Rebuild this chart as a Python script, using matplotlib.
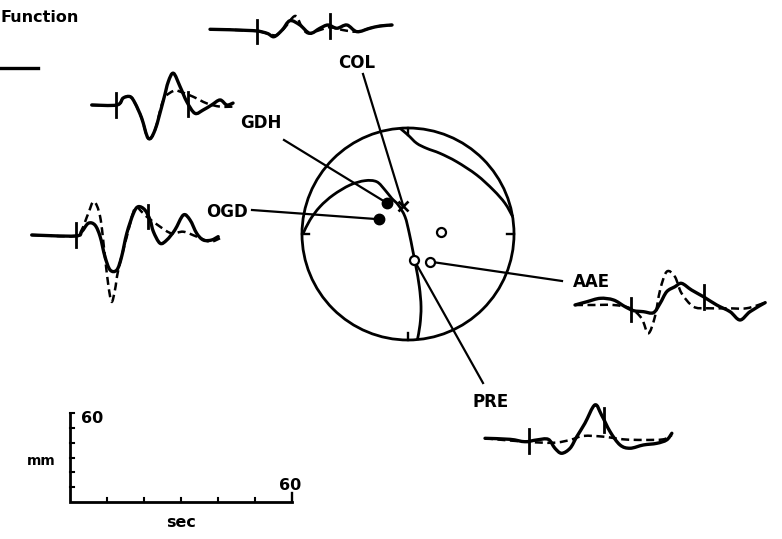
import numpy as np
import matplotlib
matplotlib.use('Agg')
import matplotlib.pyplot as plt
from matplotlib.path import Path
from matplotlib.patches import PathPatch, Circle
from matplotlib.transforms import Affine2D

# waveforms: time (sec) and amplitude (mm), observed (solid) and synthetic (dashed)
COL_T = [0, 11.6, 15.4, 17.3, 19.5, 21.6, 24.3, 27.0, 29.7, 31.9, 34.3, 37.0, 39.7, 43.2, 45.9, 49.2]
COL_OBS = [0, -0.9, -2.7, -5.0, -0.5, 5.8, 2.9, -2.7, 0.7, 2.9, 0.7, 2.9, -1.6, 0.7, 2.2, 2.9]
COL_SYN_T = [0, 11.6, 15.4, 17.8, 20.0, 23.0, 24.8, 26.5, 29.7, 32.4, 35.9, 39.7, 43.2, 45.9, 49.2]
COL_SYN = [0, -0.9, -2.7, -4.0, 0.5, 9.0, 1.8, -2.7, -0.5, 1.4, -0.5, -1.6, 0.7, 2.2, 2.9]
COL_TICKS = [12.7, 32.4]

GDH_T = [0, 6.8, 8.5, 10.4, 11.7, 13.5, 15.3, 17.1, 19.4, 20.7, 22.1, 23.9, 25.7, 27.9, 30.1, 32.4, 34.7, 36.5, 38.2]
GDH_OBS = [0, 0, 4.7, 5.6, 1.3, -8.8, -22.5, -16.9, 3.4, 15.7, 21.4, 12.3, 2.2, -5.6, -3.4, 0, 3.4, 0, 1.3]
GDH_SYN_T = [0, 6.8, 8.5, 10.4, 11.7, 13.5, 15.3, 17.1, 19.4, 22.2, 23.9, 27.4, 31.1, 34.7, 38.2]
GDH_SYN = [0, 0, 4.7, 5.6, 1.3, -8.8, -22.5, -16.9, 3.4, 9.6, 9.0, 5.6, 1.1, -1.1, -1.1]
GDH_TICKS = [6.6, 26.1]

OGD_T = [0, 11.7, 13.5, 15.3, 17.1, 18.5, 19.8, 21.2, 23.0, 24.3, 25.7, 27.5, 28.8, 30.6, 32.0, 32.9,
         34.7, 36.5, 38.7, 41.0, 42.8, 44.6, 46.4, 48.6, 50.4]
OGD_OBS = [0, -0.7, 2.2, 7.9, 6.7, -1.1, -14.6, -23.6, -23.6, -14.6, 1.1, 14.6, 19.1, 16.9, 10.1, 2.2,
           -5.6, -3.4, 3.4, 13.5, 10.1, 1.1, -3.4, -3.4, -1.1]
OGD_SYN_T = [0, 11.7, 13.5, 15.3, 16.8, 18.5, 19.8, 20.7, 21.6, 22.5, 23.4, 25.7, 27.9, 29.7, 31.1,
             34.7, 37.8, 41.0, 44.6, 48.2, 50.9]
OGD_SYN = [0, -0.7, 3.4, 14.6, 22.5, 12.3, -14.6, -33.7, -45.0, -37.1, -23.6, -1.1, 18.0, 15.7, 12.3,
           5.6, 1.1, 2.2, -1.1, -4.5, -2.2]
OGD_TICKS = [12.0, 31.5]

AAE_T = [0, 3.2, 6.8, 10.4, 13.5, 15.8, 18.5, 21.2, 23.0, 24.8, 27.0, 28.8, 31.5, 34.7, 38.3, 41.9, 44.6, 47.3, 51.4]
AAE_OBS = [0, 2.2, 4.5, 3.4, -1.1, -3.8, -4.5, -5.2, 1.1, 9.0, 12.3, 14.6, 10.1, 5.6, 0, -4.5, -10.1, -4.5, 1.6]
AAE_SYN_T = [0, 4.9, 10.4, 14.9, 18.0, 19.8, 21.6, 23.0, 24.8, 27.0, 28.8, 32.0, 35.6, 41.0, 46.4, 51.4]
AAE_SYN = [0, 0, 0, -2.2, -9.0, -19.1, -7.9, 10.1, 22.5, 19.1, 7.9, -1.1, -2.2, -2.2, -2.2, 1.6]
AAE_TICKS = [15.1, 34.9]

PRE_T = [0, 6.8, 10.8, 14.0, 17.1, 18.9, 20.7, 23.0, 24.8, 27.0, 29.7, 31.5, 33.8, 36.5, 39.2, 42.8, 46.4, 49.1, 50.5]
PRE_OBS = [0, -0.7, -2.3, -1.1, -0.7, -6.7, -10.1, -6.7, 1.1, 10.1, 22.5, 15.7, 4.5, -4.5, -6.7, -4.5, -3.4, -1.1, 3.4]
PRE_SYN_T = [0, 10.8, 18.5, 23.0, 26.6, 32.0, 37.4, 42.8, 48.2, 50.5]
PRE_SYN = [0, -2.3, -3.0, -1.1, 1.6, 1.1, -0.7, -1.1, -0.7, 2.2]
PRE_TICKS = [12.0, 32.2]

# focal sphere (unit radius): nodal planes and first-motion polarities
PLANE_A = [(-0.075, 0.997), (0.0, 0.934), (0.082, 0.856), (0.176, 0.808), (0.302, 0.761),
           (0.459, 0.682), (0.648, 0.557), (0.805, 0.415), (0.915, 0.290), (0.988, 0.163)]
PLANE_B = [(-0.988, 0.007), (-0.925, 0.132), (-0.830, 0.258), (-0.705, 0.368), (-0.547, 0.462),
           (-0.406, 0.503), (-0.295, 0.493), (-0.217, 0.415), (-0.154, 0.337), (-0.092, 0.274),
           (-0.028, 0.163), (0.012, 0.007), (0.044, -0.151), (0.075, -0.308), (0.107, -0.497),
           (0.123, -0.686), (0.113, -0.858), (0.088, -1.0)]
STATIONS = ['COL', 'GDH', 'OGD', 'AAE', 'PRE']
STA_POS = {'COL': (-0.044, 0.264), 'GDH': (-0.195, 0.290), 'OGD': (-0.271, 0.139),
           'AAE': (0.208, -0.261), 'PRE': (0.057, -0.245)}
STA_POL = {'COL': 'x', 'GDH': 'c', 'OGD': 'c', 'AAE': 'd', 'PRE': 'd'}
EXTRA_DIL = [(0.308, 0.016)]

# layout in pixels
W, H = 782, 539
SEC_PX = 222 / 60
MM_PX = 89 / 60
TICK_MM = 8
CX, CY, R = 408, 234, 106
TRACES = {
    'COL': ((210, 29.3), COL_T, COL_OBS, COL_SYN_T, COL_SYN, COL_TICKS),
    'GDH': ((91.7, 105), GDH_T, GDH_OBS, GDH_SYN_T, GDH_SYN, GDH_TICKS),
    'OGD': ((31.7, 235), OGD_T, OGD_OBS, OGD_SYN_T, OGD_SYN, OGD_TICKS),
    'AAE': ((575, 305), AAE_T, AAE_OBS, AAE_SYN_T, AAE_SYN, AAE_TICKS),
    'PRE': ((485, 438.3), PRE_T, PRE_OBS, PRE_SYN_T, PRE_SYN, PRE_TICKS),
}
LABEL_XY = {'COL': (356.5, 68.3), 'GDH': (261, 128), 'OGD': (227, 217), 'AAE': (591, 287), 'PRE': (491, 406.7)}
LEADER_START = {'COL': (363, 74), 'GDH': (284, 140), 'OGD': (252, 210), 'AAE': (562, 281), 'PRE': (483, 383)}

plt.rcParams['font.family'] = ['DejaVu Sans']
fig = plt.figure(figsize=(W / 100, H / 100), dpi=100)
ax = fig.add_axes([0, 0, 1, 1])
ax.set_xlim(0, W)
ax.set_ylim(H, 0)
ax.axis('off')


def smooth(xs, ys):
    # Catmull-Rom through the points, written as cubic Bezier segments
    pts = np.column_stack([xs, ys]).astype(float)
    verts = [pts[0]]
    codes = [Path.MOVETO]
    n = len(pts)
    for i in range(n - 1):
        p0 = pts[max(i - 1, 0)]
        p1, p2 = pts[i], pts[i + 1]
        p3 = pts[min(i + 2, n - 1)]
        verts += [p1 + (p2 - p0) / 6, p2 - (p3 - p1) / 6, p2]
        codes += [Path.CURVE4] * 3
    return Path(verts, codes)


def draw_trace(anchor, t, obs, syn_t, syn, ticks):
    tr = Affine2D().scale(SEC_PX, -MM_PX).translate(*anchor) + ax.transData
    ax.add_patch(PathPatch(smooth(t, obs), fill=False, lw=2.4, ec='k',
                           capstyle='round', joinstyle='round', transform=tr))
    ax.add_patch(PathPatch(smooth(syn_t, syn), fill=False, lw=1.8, ec='k',
                           ls=(0, (3.2, 1.8)), transform=tr))
    for tk in ticks:
        a = np.interp(tk, t, obs)
        ax.plot([tk, tk], [a - TICK_MM, a + TICK_MM], color='k', lw=2.0, transform=tr)


for name in STATIONS:
    draw_trace(*TRACES[name])

# focal sphere
sph = Affine2D().scale(R, -R).translate(CX, CY) + ax.transData
ax.add_patch(Circle((0, 0), 1, fill=False, lw=2.0, ec='k', transform=sph))
for dx, dy in [(1, 0), (-1, 0), (0, 1), (0, -1)]:
    ax.plot([dx, dx * 0.935], [dy, dy * 0.935], color='k', lw=1.7, transform=sph)
for plane in (PLANE_A, PLANE_B):
    px, py = zip(*plane)
    ax.add_patch(PathPatch(smooth(px, py), fill=False, lw=2.0, ec='k', transform=sph))

# leader lines from station names to their polarity marks
for name in STATIONS:
    sx, sy = STA_POS[name]
    x0, y0 = LEADER_START[name]
    ax.plot([x0, CX + R * sx], [y0, CY - R * sy], color='k', lw=1.6)
    ax.text(*LABEL_XY[name], name, ha='center', va='baseline', fontsize=12, fontweight='heavy')

for name in STATIONS:
    sx, sy = STA_POS[name]
    pol = STA_POL[name]
    if pol == 'c':
        ax.plot(sx, sy, 'o', ms=7.5, mfc='k', mec='k', transform=sph)
    elif pol == 'd':
        ax.plot(sx, sy, 'o', ms=6.5, mfc='white', mec='k', mew=1.6, transform=sph)
    else:
        ax.plot(sx, sy, 'x', ms=6.5, mec='k', mew=1.9, transform=sph)
for sx, sy in EXTRA_DIL:
    ax.plot(sx, sy, 'o', ms=6.5, mfc='white', mec='k', mew=1.6, transform=sph)

# amplitude / time scale bar
BAR_X, BAR_Y = 70, 502
BAR_SEC = [0, 10, 20, 30, 40, 50, 60]
BAR_MM = [0, 10, 20, 30, 40, 50, 60]
bar = Affine2D().scale(SEC_PX, -MM_PX).translate(BAR_X, BAR_Y) + ax.transData
ax.plot([0, 0, 60], [60, 0, 0], color='k', lw=2.0, transform=bar, solid_joinstyle='miter')
for s in BAR_SEC[1:-1]:
    ax.plot([s, s], [0, 3], color='k', lw=1.5, transform=bar)
ax.plot([60, 60], [0, 6], color='k', lw=1.7, transform=bar)
for m in BAR_MM[1:]:
    ax.plot([0, 1.2], [m, m], color='k', lw=1.5, transform=bar)
ax.text(92.5, 423.3, '60', ha='center', va='baseline', fontsize=11.5, fontweight='heavy')
ax.text(290, 490, '60', ha='center', va='baseline', fontsize=11.5, fontweight='heavy')
ax.text(41.7, 465, 'mm', ha='center', va='baseline', fontsize=10, fontweight='heavy')
ax.text(181, 526.7, 'sec', ha='center', va='baseline', fontsize=11.5, fontweight='heavy')

# caption fragment at upper left
ax.text(0, 21.7, 'Function', ha='left', va='baseline', fontsize=11.5, fontweight='heavy')
ax.plot([0, 38], [68, 68], color='k', lw=2.4)

fig.savefig('out.png', dpi=100)
